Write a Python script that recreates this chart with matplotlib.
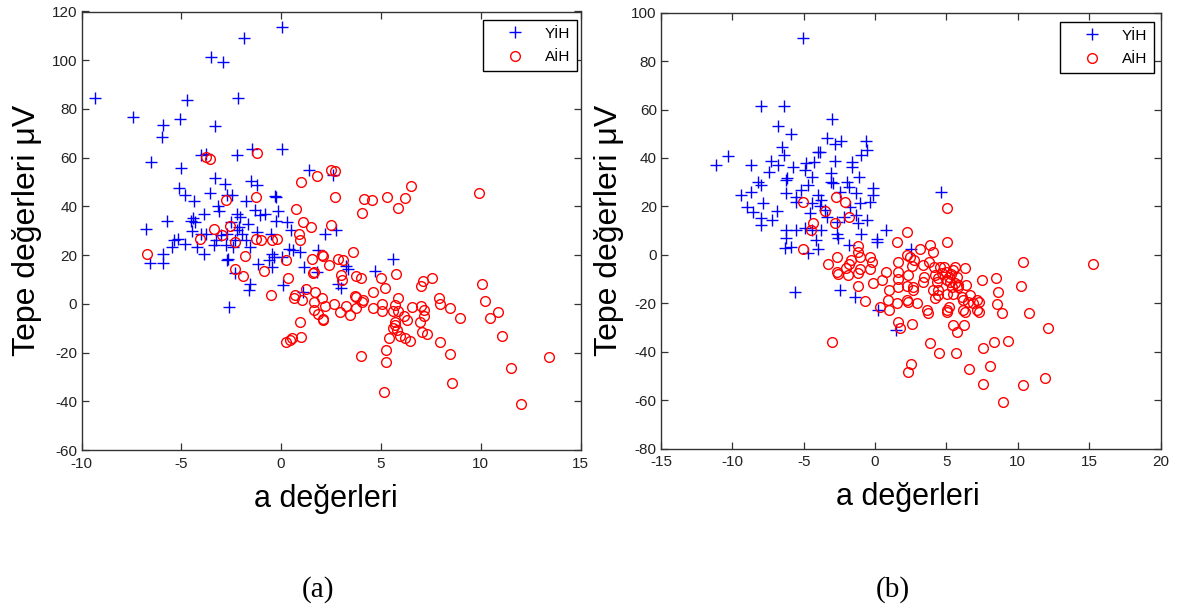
import matplotlib
matplotlib.use("Agg")
import matplotlib.pyplot as plt

# ---------------- data: panel (a) ----------------
a_yih_x = [-9.30, -7.44, -5.97, -5.93, -5.09, -4.70, -6.50, -3.50, -2.90, -1.86, 0.06, -2.18, -3.33,
           -5.02, -4.03, -3.75, -2.23, -1.48, 0.06, -3.31, -2.80, -5.13, -4.79, -4.36, -3.54, -2.71,
           -1.53, -1.23, -1.76, -2.46, -0.30, -0.25, -3.14, -3.09, -3.84, -4.41, -4.32, -4.50, -5.74,
           -6.78, -6.59, -5.93, -5.93, -5.36, -5.45, -5.17, -4.79, -4.22, -4.45, -4.03, -3.84, -3.37,
           -3.24, -2.99, -2.71, -2.75, -2.71, -2.67, -2.42, -2.33, -2.23, -2.10, -2.23, -2.04, -2.50,
           -1.95, -1.76, -1.57, -1.67, -1.29, -1.04, -0.81, -0.53, -0.47, -0.59, -0.44, -0.34, 0.06,
           -0.15, -0.25, 0.28, 0.51, 0.42, 0.61, 0.93, -1.14, -1.57, -1.61, 0.09, -2.61, -2.33, 1.08,
           1.17, 1.80, 1.84, 2.22, 2.75, 2.59, 1.42, 3.26, 3.36, 2.85, 2.98, 4.72, 5.63, -1.19, -3.75]
a_yih_y = [84.6, 76.7, 68.5, 73.3, 76.0, 83.5, 58.2, 101.5, 99.1, 109.2, 113.6, 84.6, 72.9,
           55.8, 61.0, 61.4, 61.2, 63.7, 63.7, 51.7, 49.3, 47.7, 44.6, 42.1, 45.7, 44.8,
           50.3, 48.9, 42.1, 44.6, 44.3, 43.8, 40.2, 38.0, 37.0, 35.3, 33.6, 33.9, 33.8,
           30.9, 16.8, 16.8, 20.6, 26.1, 23.4, 26.8, 24.7, 23.4, 29.9, 28.8, 20.6, 24.1,
           26.1, 28.2, 28.8, 24.1, 17.9, 18.4, 23.4, 26.1, 30.2, 31.6, 37.0, 35.7, 33.6,
           28.8, 26.1, 23.4, 32.9, 38.4, 36.4, 37.0, 28.8, 20.6, 17.9, 15.2, 19.3, 19.3,
           38.0, 33.9, 33.6, 30.2, 22.7, 22.0, 21.1, 16.5, 8.3, 5.6, 7.7, -1.5, 12.7, 4.9,
           15.2, 13.1, 22.0, 28.8, 30.2, 52.8, 54.8, 15.4, 14.1, 8.3, 6.3, 13.5, 18.6, 29.5, 28.6]

a_aih_x = [-6.72, -3.75, -3.56, -1.19, -2.75, -1.25, -3.37, -4.07, -2.98, -2.58, -2.29, -1.80, -2.30,
           -1.89, -1.27, -1.00, -0.47, -0.21, -0.85, -0.51, 0.23, 0.36, 0.76, 0.98, 1.80, 1.08, 1.50,
           0.89, 0.93, 2.50, 2.69, 2.71, 2.52, 3.58, 1.55, 2.06, 2.12, 1.61, 1.66, 2.40, 2.86, 3.11,
           3.01, 3.07, 3.73, 3.98, 4.58, 5.02, 5.21, 5.76, 7.01, 7.11, 7.56, 0.70, 0.66, 1.04, 1.23,
           1.70, 2.06, 1.65, 2.18, 1.65, 1.84, 2.08, 2.12, 2.65, 2.94, 3.26, 3.45, 3.69, 3.75, 3.73,
           4.11, 4.07, 4.58, 5.06, 5.06, 5.69, 5.63, 5.87, 5.85, 6.16, 6.29, 5.72, 5.69, 5.63, 5.82,
           5.40, 5.97, 6.20, 6.44, 6.57, 6.99, 7.18, 7.14, 6.95, 7.05, 7.33, 7.90, 7.94, 8.47, 8.98,
           7.96, 8.47, 8.58, 5.17, 5.25, 5.25, 4.02, 0.27, 0.47, 0.57, 1.02, 0.95, 9.89, 10.08, 10.23,
           10.47, 10.89, 11.06, 11.50, 12.03, 13.43, 4.07, 4.15, 4.53, 5.30, 5.85, 6.23, 6.52]
a_aih_y = [20.6, 60.3, 59.3, 62.0, 42.5, 43.9, 30.6, 26.5, 28.2, 32.0, 25.2, 19.5, 14.4,
           11.4, 26.7, 26.1, 26.4, 26.8, 13.5, 3.6, 17.9, 10.8, 38.8, 50.0, 52.5, 33.6, 31.6,
           28.8, 26.1, 54.8, 54.5, 43.9, 32.3, 21.3, 18.6, 20.0, 19.6, 12.7, 13.2, 15.9, 18.6, 17.9,
           11.8, 9.7, 11.4, 10.7, 4.9, 10.8, 6.7, 12.2, 7.3, 9.3, 10.8, 3.6, 2.5, 1.5, 5.9,
           4.9, 2.5, 0.8, -1.0, -2.6, -4.0, -6.4, -6.8, 0.1, -3.3, -1.0, -4.6, 3.1, 2.6, -1.9,
           1.5, 0.6, -1.9, 0.1, -3.0, -0.5, -2.9, 2.5, -2.9, -5.0, -6.7, -7.4, -8.7, -10.1, -10.8,
           -14.2, -13.1, -14.2, -15.3, -1.5, -0.8, -2.6, -5.0, -7.4, -11.7, -12.4, 2.2, 0.1, -1.9, -6.0,
           -15.8, -20.6, -32.7, -36.1, -24.0, -19.0, -21.3, -15.6, -14.9, -14.2, -13.8, -7.4, 45.5, 8.1, 1.1,
           -6.0, -3.3, -13.2, -26.2, -41.3, -22.0, 37.3, 42.9, 42.5, 43.9, 39.5, 43.6, 48.2]

# ---------------- data: panel (b) ----------------
b_yih_x = [-5.02, -7.97, -6.39, -3.02, -6.78, -5.91, -3.36, -2.83, -2.36, -0.67, -0.54, -0.99, -6.52,
           -6.39, -4.02, -3.85, -11.13, -10.34, -8.68, -7.26, -6.78, -7.44, -5.73, -4.81, -4.28, -4.94,
           -4.41, -6.26, -6.20, -3.10, -2.78, -1.59, -1.59, -1.12, -8.23, -8.02, -8.68, -9.42, -7.84,
           -8.94, -8.55, -7.97, -7.97, -7.23, -6.86, -6.26, -5.55, -5.52, -5.20, -4.73, -4.02, -3.76,
           -3.89, -3.10, -2.96, -2.44, -1.96, -1.83, -1.31, -1.04, -0.33, -0.15, -0.15, -6.26, -6.26,
           -6.31, -5.55, -4.94, -4.41, -3.76, -4.15, -4.68, -3.97, -5.86, -2.70, -2.57, -3.36, -2.70,
           -2.17, -1.31, -1.20, -0.59, -0.99, -1.83, 0.12, 0.14, 0.78, -5.60, -2.49, -1.44, 0.20,
           1.46, 4.59, 2.51, -4.41, -3.49, -1.78, -4.55]
b_yih_y = [89.4, 61.4, 61.4, 56.3, 53.3, 50.1, 48.1, 45.7, 47.1, 47.1, 43.3, 41.2, 44.6,
           41.2, 42.6, 42.3, 37.3, 40.8, 37.3, 38.7, 37.1, 34.3, 36.4, 37.8, 38.4, 35.0,
           32.0, 30.9, 31.6, 33.6, 38.9, 38.2, 36.4, 32.0, 30.2, 28.8, 25.8, 24.7, 21.6,
           19.6, 17.8, 15.0, 12.3, 14.3, 18.2, 25.6, 24.0, 21.9, 26.7, 28.8, 24.7, 22.6,
           20.1, 30.2, 29.5, 26.0, 30.2, 28.1, 25.4, 21.2, 21.9, 27.4, 24.7, 10.2, 6.8,
           3.0, 10.2, 11.2, 10.2, 10.2, 6.1, 0.6, 2.6, 3.3, 8.8, 6.8, 15.7, 13.6,
           15.7, 16.4, 13.0, 14.3, 8.8, 4.0, 6.4, 5.4, 10.2, -15.3, -14.6, -17.3, -22.8,
           -31.1, 25.8, 2.4, 21.2, 18.5, 19.8, 17.1]

b_aih_x = [-5.04, -4.33, -4.47, -5.04, -3.52, -2.75, -2.10, -2.78, -1.83, -3.02, -1.17, -1.20, -1.04,
           -0.38, -0.25, -0.33, -0.12, -3.31, -2.70, -2.70, -2.62, -1.83, -1.70, -2.04, -1.91, -1.20,
           -1.04, -1.20, -0.73, 0.33, 0.78, 0.46, 0.99, 0.93, 0.99, 1.51, 1.59, 1.64, 1.64, 1.64, 1.51,
           2.22, 2.22, 2.43, 2.57, 2.70, 2.30, 2.25, 2.30, 2.64, 2.96, 3.17, 3.36, 3.44, 3.75, 3.83,
           4.07, 4.15, 4.23, 4.33, 4.41, 4.41, 4.23, 3.70, 4.80, 4.94, 5.02, 5.07, 5.20, 5.28, 5.38,
           5.46, 5.07, 5.02, 5.20, 5.59, 5.73, 5.81, 6.33, 6.38, 6.17, 6.33, 6.65, 6.86, 7.31, 7.31,
           7.49, 5.46, 5.73, 6.20, 3.88, 4.46, 5.65, 2.57, 2.51, 2.30, 1.64, 1.78, 6.60, 7.57, 7.57,
           8.04, 8.31, 8.49, 8.62, 8.57, 8.89, 9.34, 8.94, 10.34, 10.20, 10.78, 10.34, 11.92, 12.10,
           15.29, 4.55, 5.49, 5.02, 5.84, 4.08, 6.07, 6.54, 7.12, 7.12, 6.19, 3.38, 2.68, 2.21, 3.61,
           5.02, 4.70, 5.30, 4.40, 5.60]
b_aih_y = [21.9, 13.0, 10.2, 2.6, 18.2, 24.0, 21.9, 13.2, 15.7, -36.2, 3.6, 1.3, -0.8,
           -0.8, -2.9, -6.0, -11.6, -4.0, -1.1, -7.0, -8.0, -3.6, -2.2, -5.4, -8.4, -7.7,
           -5.9, -12.9, -19.0, -21.5, -7.0, -10.5, -14.6, -18.7, -22.8, -20.1, -13.2, -9.8, -7.0, -2.9, 5.4,
           9.5, -0.1, -0.8, -4.7, -2.2, -8.4, -12.9, -19.4, -14.6, -20.1, 2.2, -4.3, -9.1, -2.9, 4.0,
           1.3, -4.9, -8.4, -11.1, -14.6, -16.7, -18.0, -24.0, -4.9, -7.0, 19.2, 5.1, -9.1, -11.1, -13.2,
           -16.0, -16.0, -23.5, -21.5, -4.9, -9.1, -13.2, -5.6, -12.5, -18.7, -23.5, -16.7, -20.1, -19.4, -23.5,
           -10.5, -29.0, -31.8, -29.0, -36.6, -40.5, -40.5, -28.4, -45.2, -48.6, -27.7, -30.4, -47.2, -38.3, -53.4,
           -45.8, -36.2, -9.5, -15.3, -20.5, -24.2, -35.7, -61.0, -2.9, -12.8, -24.2, -53.8, -50.8, -30.4,
           -3.6, -4.9, -6.3, -10.4, -12.5, -14.5, -17.3, -19.4, -18.7, -22.8, -22.8, -11.1, -13.2, -18.7, -22.8,
           -22.8, -7.5, -8.0, -9.5, -11.5]

series_labels = ["YİH", "AİH"]
panel_captions = ["(a)", "(b)"]
x_label = "a değerleri"
y_label = "Tepe değerleri \u03bcV"

a_xticks = [-10, -5, 0, 5, 10, 15]
a_yticks = [-60, -40, -20, 0, 20, 40, 60, 80, 100, 120]
b_xticks = [-15, -10, -5, 0, 5, 10, 15, 20]
b_yticks = [-80, -60, -40, -20, 0, 20, 40, 60, 80, 100]

# ---------------- drawing ----------------
plt.rcParams['font.family'] = ['Liberation Sans Narrow', 'Liberation Sans', 'DejaVu Sans']
plt.rcParams['axes.unicode_minus'] = False

W, H = 1177, 614
fig = plt.figure(figsize=(W / 100, H / 100), dpi=100)


def px_axes(l, t, r, b):
    return fig.add_axes([l / W, 1 - b / H, (r - l) / W, (b - t) / H])


panels = [
    dict(box=(81.5, 11.5, 580.5, 450), yih=(a_yih_x, a_yih_y), aih=(a_aih_x, a_aih_y),
         xticks=a_xticks, yticks=a_yticks, leg=(0.993, 0.981), ylab_x=-0.110, xlab_x=0.49,
         cap_x=318),
    dict(box=(661, 12.7, 1160.5, 448.5), yih=(b_yih_x, b_yih_y), aih=(b_aih_x, b_aih_y),
         xticks=b_xticks, yticks=b_yticks, leg=(0.987, 0.979), ylab_x=-0.104, xlab_x=0.495,
         cap_x=893),
]

for i, p in enumerate(panels):
    ax = px_axes(*p['box'])
    ax.plot(p['yih'][0], p['yih'][1], linestyle='none', marker='+', color=(0, 0, 1),
            markersize=8, markeredgewidth=1.0, label=series_labels[0])
    ax.plot(p['aih'][0], p['aih'][1], linestyle='none', marker='o', color=(1, 0, 0),
            markerfacecolor='none', markersize=7, markeredgewidth=1.0, label=series_labels[1])
    ax.set_xlim(p['xticks'][0], p['xticks'][-1])
    ax.set_ylim(p['yticks'][0], p['yticks'][-1])
    ax.set_xticks(p['xticks'])
    ax.set_yticks(p['yticks'])
    ax.tick_params(direction='in', top=True, right=True, length=5, width=0.9,
                   color='#333333', labelsize=11, labelcolor='#222222')
    ax.tick_params(axis='x', pad=5)
    ax.tick_params(axis='y', pad=3)
    for s in ax.spines.values():
        s.set_color('#333333')
        s.set_linewidth(1.0)
    ax.set_xlabel(x_label, fontsize=22, family=['Liberation Sans', 'DejaVu Sans'],
                  va='baseline')
    ax.xaxis.set_label_coords(p['xlab_x'], -0.130)
    ax.set_ylabel(y_label, fontsize=23, family=['Liberation Sans', 'DejaVu Sans'],
                  va='center')
    ax.yaxis.set_label_coords(p['ylab_x'], 0.5)
    leg = ax.legend(loc='upper right', bbox_to_anchor=p['leg'], borderaxespad=0,
                    fancybox=False, framealpha=1, edgecolor='black', fontsize=11,
                    handlelength=3.3, handletextpad=0.3, labelspacing=0.6,
                    borderpad=0.45, numpoints=1)
    leg.get_frame().set_linewidth(1.0)
    fig.text(p['cap_x'] / W, 1 - 590 / H, panel_captions[i], ha='center', va='center',
             fontsize=21, family=['Liberation Serif', 'DejaVu Serif'])

fig.savefig('out.png', dpi=100)
